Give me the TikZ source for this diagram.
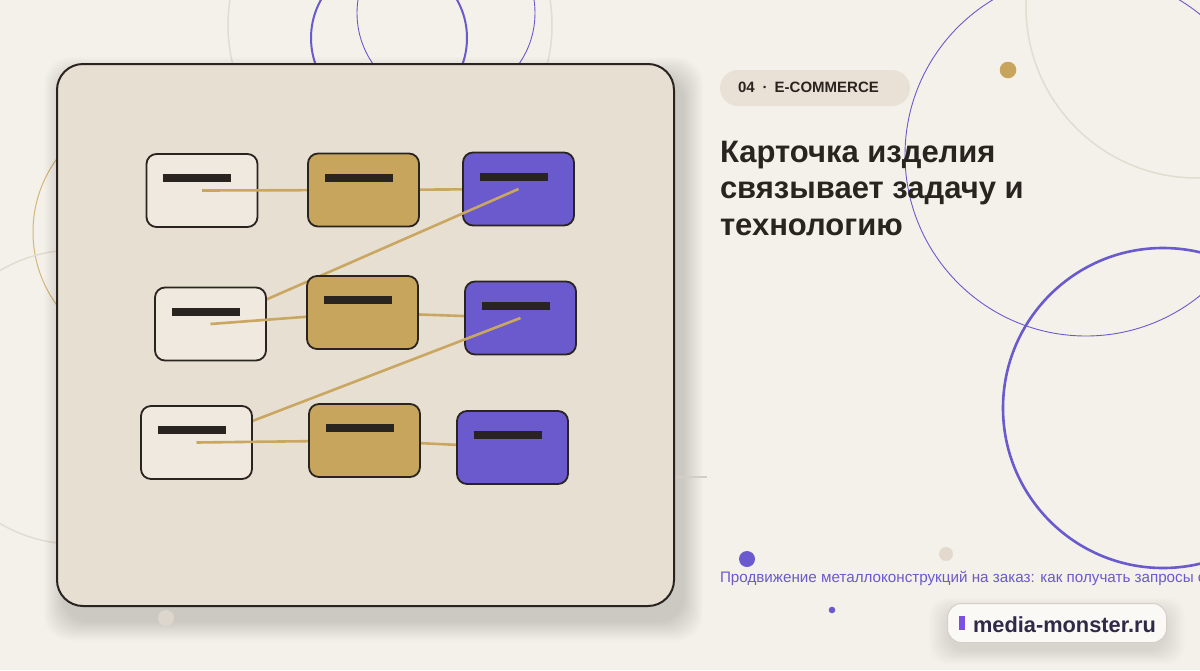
\documentclass[tikz,border=0pt]{standalone}
\usepackage{fontspec}
\setmainfont{Liberation Sans}
\definecolor{bgc}{HTML}{F4F1EA}
\definecolor{panelc}{HTML}{E8DFD3}
\definecolor{inkc}{HTML}{2A2420}
\definecolor{goldc}{HTML}{C8A55C}
\definecolor{purc}{HTML}{6A5ACD}
\definecolor{lightc}{HTML}{EFE9DF}
\definecolor{grayc}{HTML}{E2DCD1}
\definecolor{pillc}{HTML}{E9E1D5}
\definecolor{linkc}{HTML}{C9A760}
\definecolor{goldthin}{HTML}{D6B676}
\definecolor{badgec}{HTML}{FBF9F6}
\definecolor{badgeline}{HTML}{D5CFC8}
\definecolor{brandc}{HTML}{2E2A48}
\definecolor{barc}{HTML}{7B4FE0}
\definecolor{dotbeige}{HTML}{E3DACD}
\definecolor{dotgray}{HTML}{DCD6CC}
\pgfdeclarelayer{lbc}
\pgfdeclarelayer{cbox}
\pgfdeclarelayer{ldiag}
\pgfdeclarelayer{abox}
\pgfdeclarelayer{lab}
\pgfdeclarelayer{bbox}
\pgfsetlayers{main,lbc,cbox,ldiag,abox,lab,bbox}
\begin{document}
\begin{tikzpicture}[x=1pt,y=-1pt,
  card/.style={rectangle, rounded corners=10pt, draw=inkc, line width=1.8pt,
    minimum width=111pt, minimum height=73pt, inner sep=0pt},
  cardA/.style={card, fill=lightc},
  cardB/.style={card, fill=goldc},
  cardC/.style={card, fill=purc},
  link/.style={draw=linkc, line width=2.6pt},
  bgring/.style={draw=grayc, line width=1.5pt},
  txt/.style={inner sep=0pt, outer sep=0pt, anchor=base west},
  titlefont/.style={txt, text=inkc, font=\fontsize{31}{37}\selectfont\bfseries}
]
\useasboundingbox (0,0) rectangle (1200,670);
\fill[bgc] (0,0) rectangle (1200,670);

% background rings
\draw[bgring] (390,25) circle[radius=162];
\draw[purc, line width=2pt] (389,38) circle[radius=78];
\draw[purc, line width=0.9pt] (446,13) circle[radius=89];
\draw[goldthin, line width=1pt] (157,232) circle[radius=124];
\draw[bgring] (75,397) circle[radius=147];
\draw[bgring] (1197,7) circle[radius=171];
\draw[purc, line width=0.9pt] (1086,155) circle[radius=181];
\draw[purc, line width=2.6pt] (1163,408) circle[radius=160];

% panel shadow
\foreach \i in {1,...,20}
  \fill[black, opacity=0.007, rounded corners=26pt]
    (64-\i,77-\i) rectangle (683+\i,621+\i);
\draw[dotgray!90!gray, line width=1.5pt] (600,477) -- (707,477);

% dots
\fill[goldc] (1008,70) circle[radius=8.3];
\fill[purc] (747,559) circle[radius=8];
\fill[dotbeige] (946,554) circle[radius=7];
\fill[purc] (832,610) circle[radius=3.3];
\fill[dotgray] (166,618) circle[radius=8];

% panel
\node[rectangle, rounded corners=26pt, draw=inkc, line width=2pt, fill=panelc,
  minimum width=617pt, minimum height=542pt, inner sep=0pt] (panel) at (365.5,335) {};

% cards
\begin{pgfonlayer}{abox}
\node[cardA] (A1) at (202,190.5) {};
\node[cardA] (A2) at (210.5,324) {};
\node[cardA] (A3) at (196.5,442.5) {};
\foreach \n in {A1,A2,A3}
  \fill[inkc] ([shift={(-39,-16.5)}]\n.center) rectangle ++(68,8);
\end{pgfonlayer}
\begin{pgfonlayer}{bbox}
\node[cardB] (B1) at (363.5,190) {};
\node[cardB] (B2) at (362.5,312.5) {};
\node[cardB] (B3) at (364.5,440.5) {};
\foreach \n in {B1,B2,B3}
  \fill[inkc] ([shift={(-39,-16.5)}]\n.center) rectangle ++(68,8);
\end{pgfonlayer}
\begin{pgfonlayer}{cbox}
\node[cardC] (C1) at (518.5,189) {};
\node[cardC] (C2) at (520.5,318) {};
\node[cardC] (C3) at (512.5,447.5) {};
\foreach \n in {C1,C2,C3}
  \fill[inkc] ([shift={(-39,-16.5)}]\n.center) rectangle ++(68,8);
\end{pgfonlayer}

% connectors
\begin{pgfonlayer}{lbc}
\draw[link] (B1.center) -- (C1.center);
\draw[link] (B2.center) -- (C2.center);
\draw[link] (B3.center) -- (C3.center);
\end{pgfonlayer}
\begin{pgfonlayer}{ldiag}
\draw[link] (C1.center) -- (A2.center);
\draw[link] (C2.center) -- (A3.center);
\end{pgfonlayer}
\begin{pgfonlayer}{lab}
\draw[link] (A1.center) -- (B1.center);
\draw[link] (A2.center) -- (B2.center);
\draw[link] (A3.center) -- (B3.center);
\end{pgfonlayer}

% header pill
\node[rectangle, rounded corners=18pt, fill=pillc, minimum width=190pt,
  minimum height=36pt, inner sep=0pt] (pill) at (815,88) {};
\node[txt, text=inkc, font=\fontsize{15}{18}\selectfont\bfseries] (tag) at (738,92.5)
  {04\hspace{8pt}·\hspace{7pt}E-COMMERCE};

% title
\node[titlefont] (t1) at (720,162) {Карточка изделия};
\node[titlefont] (t2) at (720,198.5) {связывает задачу и};
\node[titlefont] (t3) at (720,235) {технологию};

% footer
\node[txt, text=purc, font=\fontsize{15.2}{18}\selectfont] (foot) at (720,582)
  {Продвижение металлоконструкций на заказ: как получать запросы с};

% badge
\foreach \i in {1,...,14}
  \fill[black, opacity=0.006, rounded corners=18pt]
    (950-1.5*\i,612-\i) rectangle (1164+1.5*\i,650+\i);
\node[rectangle, rounded corners=14pt, fill=badgec, draw=badgeline, line width=1pt,
  minimum width=219pt, minimum height=39pt, inner sep=0pt] (badge) at (1057,623) {};
\fill[barc] (959,616) rectangle (965,630);
\node[txt, text=brandc, font=\fontsize{21.8}{26}\selectfont\bfseries] (brand) at (973,632.5) {media-monster.ru};
\end{tikzpicture}
\end{document}
